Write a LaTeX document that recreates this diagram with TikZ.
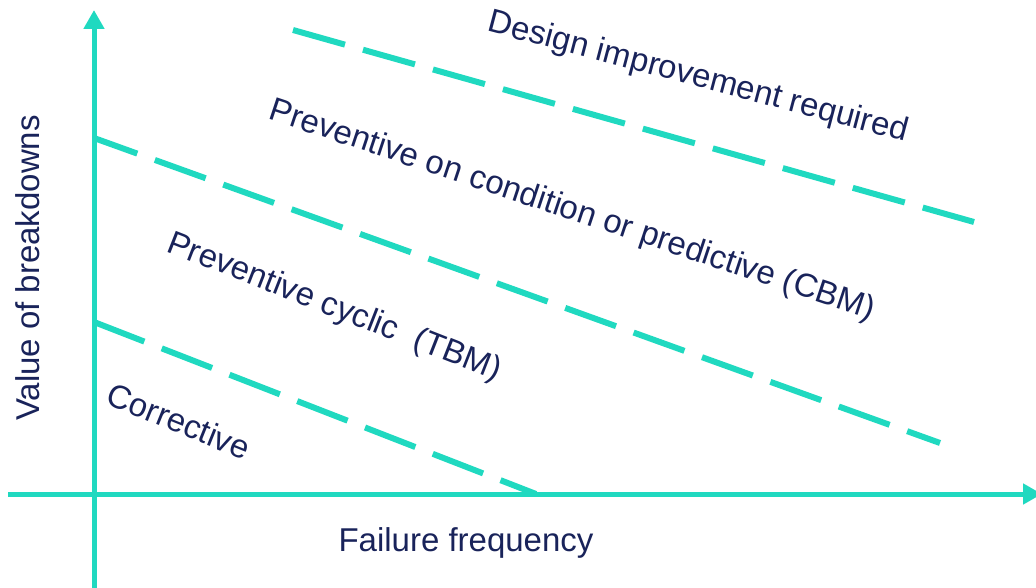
\documentclass[tikz,border=0pt]{standalone}
\usepackage{fontspec}
\setmainfont{Liberation Sans}
\usetikzlibrary{arrows.meta}
\definecolor{teal}{RGB}{32,217,192}
\definecolor{navy}{RGB}{25,35,90}
\tikzset{
  axis/.style={draw=teal, line width=5pt, -{Triangle[length=19pt,width=20pt]}},
  bound/.style={draw=teal, line width=6pt, dash pattern=on 54pt off 18.7pt},
  lbl/.style={text=navy, font=\fontsize{33}{39}\selectfont, inner sep=0pt},
}
\begin{document}
\begin{tikzpicture}[x=1pt,y=-1pt]
\useasboundingbox (0,0) rectangle (1036,588);
% axes
\coordinate (ybot) at (94,590);
\coordinate (ytop) at (94,10);
\coordinate (xl) at (8,494);
\coordinate (xr) at (1042,494);
\draw[axis] (ybot) -- (ytop);
\draw[axis] (xl) -- (xr);
% boundaries
\coordinate (a1) at (94,322);  \coordinate (a2) at (536,494);
\coordinate (b1) at (94,138);  \coordinate (b2) at (940,443);
\coordinate (c1) at (293,30);  \coordinate (c2) at (974,222);
\draw[bound] (a1) -- (a2);
\draw[bound, dash phase=8pt] (b1) -- (b2);
\draw[bound] (c1) -- (c2);
% labels
\node[lbl, rotate=-14.8] (design) at (698,78) {Design improvement required};
\node[lbl, rotate=-18.4] (cbm) at (572,211) {Preventive on condition or predictive (CBM)};
\node[lbl, rotate=-21.4] (tbm) at (334,308) {Preventive cyclic\ \ (TBM)};
\node[lbl, rotate=-22] (corr) at (179,421) {Corrective};
\node[lbl, rotate=90] (ylab) at (28,268) {Value of breakdowns};
\node[lbl] (xlab) at (466,543) {Failure frequency};
\end{tikzpicture}
\end{document}
